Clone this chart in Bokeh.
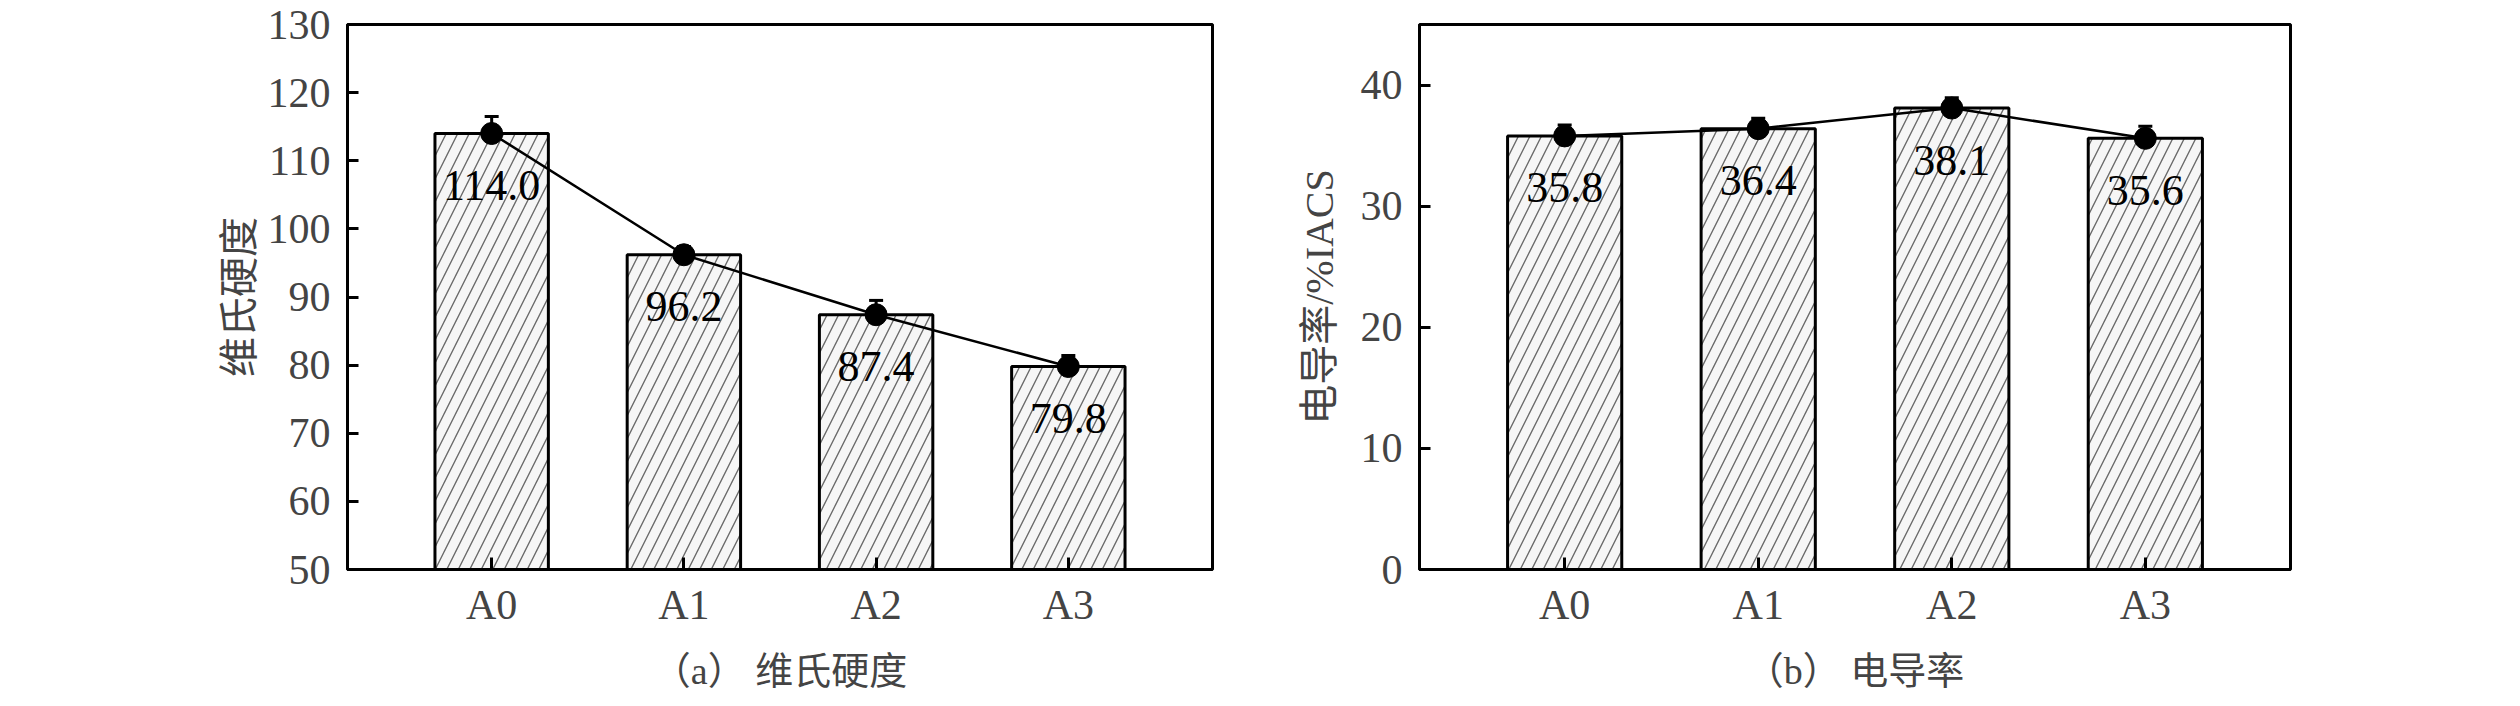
from bokeh.plotting import figure
from bokeh.models import ColumnDataSource, Whisker, TeeHead, FixedTicker, Range1d
from bokeh.layouts import row
from bokeh.embed import file_html
from bokeh.resources import INLINE
from bokeh.core.properties import value
import numpy as np

# ---------------- data ----------------
categories = ["A0", "A1", "A2", "A3"]
hardness = [114.0, 96.2, 87.4, 79.8]
hardness_err = [2.5, 1.2, 2.1, 1.6]
conductivity = [35.8, 36.4, 38.1, 35.6]
conductivity_err = [0.9, 0.85, 0.85, 1.0]
hardness_ticks = [50, 60, 70, 80, 90, 100, 110, 120, 130]
conductivity_ticks = [0, 10, 20, 30, 40]
hardness_ylabel = "维氏硬度"
conductivity_ylabel = "电导率/%IACS"
caption_a = "（a） 维氏硬度"
caption_b = "（b） 电导率"

SERIF = "Liberation Serif"
MIXED = "'Liberation Serif', 'Noto Sans CJK SC'"


def make_panel(vals, errs, ylo, yhi, yticks, ylabel, caption, frame_w,
               border_left, border_right, ylabel_standoff, ylabel_font):
    x = list(np.arange(len(categories)))
    src = ColumnDataSource(dict(
        x=x,
        v=vals,
        upper=[a + b for a, b in zip(vals, errs)],
        lower=[a - b for a, b in zip(vals, errs)],
        label=[f"{a:.1f}" for a in vals],
    ))
    p = figure(frame_width=frame_w, frame_height=545,
               x_range=Range1d(-0.75, 3.75), y_range=Range1d(ylo, yhi),
               output_backend="svg", toolbar_location=None,
               min_border_left=border_left, min_border_right=border_right,
               min_border_top=24, min_border_bottom=112)
    p.background_fill_color = "white"
    p.border_fill_color = "white"
    p.outline_line_color = "black"
    p.outline_line_width = 3
    p.xgrid.visible = False
    p.ygrid.visible = False

    p.vbar(x="x", top="v", bottom=ylo, width=0.59, source=src,
           fill_color="#f6f6f6", line_color="black", line_width=3,
           hatch_pattern="/", hatch_color="#6a6a6a", hatch_weight=1.4,
           hatch_scale=23)
    p.line("x", "v", source=src, line_color="black", line_width=2.5)
    w = Whisker(base="x", upper="upper", lower="lower", source=src,
                line_color="black", line_width=3,
                upper_head=TeeHead(size=14, line_width=3, line_color="black"),
                lower_head=TeeHead(size=14, line_width=3, line_color="black"))
    p.add_layout(w)
    p.scatter("x", "v", source=src, size=22, fill_color="black", line_color="black")
    p.text(x="x", y="v", text="label", source=src,
           text_font=value(SERIF), text_font_size="44px",
           text_align="center", text_baseline="middle", y_offset=52,
           text_color="black")

    xa = p.xaxis[0]
    xa.ticker = FixedTicker(ticks=x)
    xa.major_label_overrides = {i: c for i, c in zip(x, categories)}
    xa.minor_tick_line_color = None
    xa.major_tick_in = 12
    xa.major_tick_out = 0
    xa.major_tick_line_width = 3
    xa.axis_line_width = 3
    xa.major_label_text_font = SERIF
    xa.major_label_text_font_size = "42px"
    xa.major_label_standoff = 12
    xa.axis_label = caption
    xa.axis_label_text_font = MIXED
    xa.axis_label_text_font_size = "38px"
    xa.axis_label_text_font_style = "normal"
    xa.axis_label_standoff = 19

    ya = p.yaxis[0]
    ya.ticker = FixedTicker(ticks=yticks)
    ya.minor_tick_line_color = None
    ya.major_tick_in = 11
    ya.major_tick_out = 0
    ya.major_tick_line_width = 3
    ya.axis_line_width = 3
    ya.major_label_text_font = SERIF
    ya.major_label_text_font_size = "42px"
    ya.major_label_standoff = 17
    ya.axis_label = ylabel
    ya.axis_label_text_font = ylabel_font
    ya.axis_label_text_font_size = "40px"
    ya.axis_label_text_font_style = "normal"
    ya.axis_label_standoff = ylabel_standoff
    return p


p1 = make_panel(hardness, hardness_err, 50, 130, hardness_ticks, hardness_ylabel,
                caption_a, 865, 347, 80, 0, "Noto Sans CJK SC")
p2 = make_panel(conductivity, conductivity_err, 0, 45, conductivity_ticks,
                conductivity_ylabel, caption_b, 871, 127, 200, 16, MIXED)

layout = row(p1, p2)
open("out.html", "w").write(file_html(layout, INLINE))
